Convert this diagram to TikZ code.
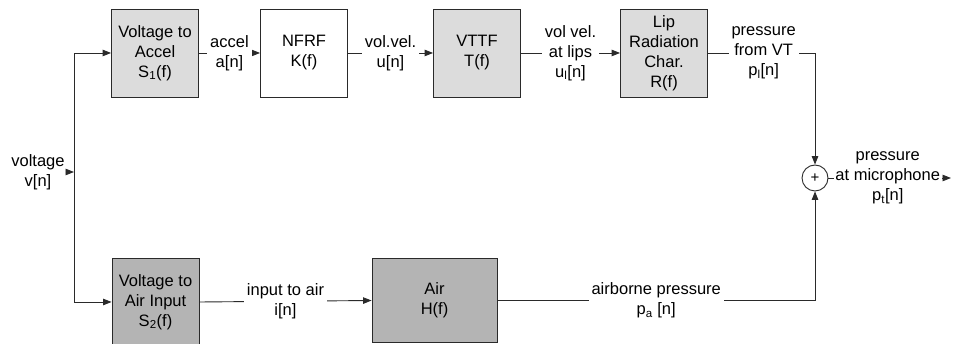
\documentclass[tikz,border=0pt]{standalone}
\usepackage{fontspec}
\setmainfont{Liberation Sans}
\usetikzlibrary{arrows.meta}
\definecolor{lightbox}{HTML}{DCDCDC}
\definecolor{darkbox}{HTML}{B4B4B4}
\definecolor{ink}{HTML}{2A2A2A}
\newcommand{\sbs}[1]{\textsubscript{#1}}
\tikzset{
  blk/.style={draw=ink, line width=0.9pt, minimum width=87pt, minimum height=88pt, align=center, inner sep=0pt},
  lightblk/.style={blk, fill=lightbox},
  darkblk/.style={blk, fill=darkbox},
  whiteblk/.style={blk, fill=white},
  lab/.style={fill=white, align=center, inner xsep=3pt, inner ysep=0pt},
  conn/.style={draw=ink, line width=0.9pt},
  arr/.style={conn, -{Triangle[length=8.5pt,width=6.5pt]}},
  every node/.style={font=\fontsize{16.5}{20}\selectfont, text=black}
}
\begin{document}
\begin{tikzpicture}[x=1pt,y=-1pt]
\useasboundingbox (0,0) rectangle (954,344);
\fill[white] (0,0) rectangle (954,344);
% top row
\node[lightblk] (s1) at (155,53) {Voltage to\\Accel\\S\sbs{1}(f)};
\node[whiteblk] (nfrf) at (304,53) {NFRF\\K(f)};
\node[lightblk] (vttf) at (477,53) {VTTF\\T(f)};
\node[lightblk] (lip) at (664,53) {Lip\\Radiation\\Char.\\R(f)};
% bottom row
\node[darkblk] (s2) at (155.5,302) {Voltage to\\Air Input\\S\sbs{2}(f)};
\node[darkblk, minimum width=125pt, minimum height=84pt] (air) at (434.5,300.5) {Air\\H(f)};
% summer
\node[draw=ink, line width=0.9pt, circle, minimum size=26pt, inner sep=0pt, font=\fontsize{15}{15}\selectfont] (sum) at (815,178) {+};
% input
\node[align=center, inner sep=2pt] (vlab) at (38,172) {voltage\\v[n]};
\coordinate (j) at (74,172);
\coordinate (out) at (951,178);
\draw[arr] (vlab.east) -- (j);
\draw[arr] (j) |- (s1.west);
\draw[arr] (j) |- (s2.west);
% top chain
\draw[arr] (s1.east) -- (nfrf.west) node[midway, lab] {accel\\a[n]};
\draw[arr] (nfrf.east) -- (vttf.west) node[midway, lab] {vol.vel.\\u[n]};
\draw[arr] (vttf.east) -- (lip.west) node[midway, lab] {vol vel.\\at lips\\u\sbs{l}[n]};
\draw[arr] (lip.east) -| (sum.north) node[pos=0.26, lab] {pressure\\from VT\\p\sbs{l}[n]};
% bottom chain
\draw[arr] (s2.east) -- (air.west) node[midway, lab] {input to air\\i[n]};
\draw[arr] (air.east) -| (sum.south) node[pos=0.25, lab] {airborne pressure\\p\sbs{a} [n]};
% output
\draw[arr] (sum.east) -- (out) node[midway, lab, inner xsep=1.5pt, xshift=-2pt] {pressure\\at microphone\\p\sbs{t}[n]};
\end{tikzpicture}
\end{document}
